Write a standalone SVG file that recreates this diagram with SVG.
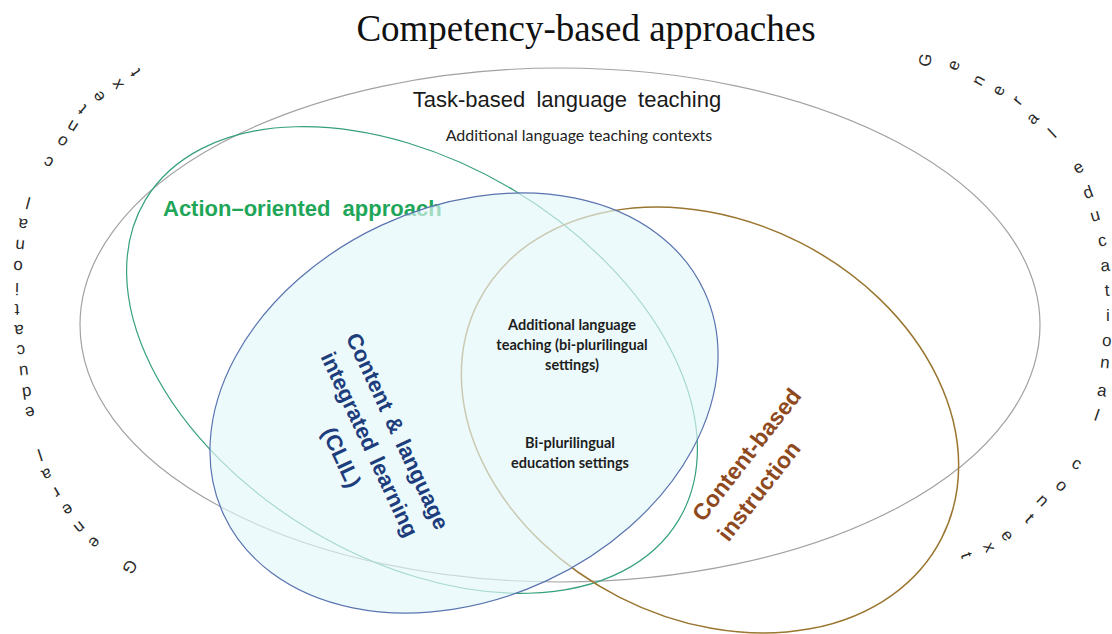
<svg xmlns="http://www.w3.org/2000/svg" width="1112" height="634" viewBox="0 0 1112 634">
<style>
.ctx{font-family:"Liberation Sans",Arial,sans-serif;font-size:17px;fill:#2a2a2a;text-anchor:middle}
.title{font-family:"Liberation Serif","Times New Roman",serif;font-size:37px;fill:#111;text-anchor:middle}
.cal{font-family:Lato,"Open Sans",sans-serif;fill:#222;text-anchor:middle}
.calb{font-family:Lato,"Open Sans",sans-serif;font-weight:bold;font-size:14.5px;fill:#1e1e1e;text-anchor:middle}
.ar{font-family:"Liberation Sans",Arial,sans-serif}
.arb{font-family:"Liberation Sans",Arial,sans-serif;font-weight:bold}
.el{fill:none}
</style>
<rect width="1112" height="634" fill="#fff"/>
<text class="title" x="586" y="41">Competency-based approaches</text>

<g id="context-right">
<text class="ctx" transform="translate(925,60) rotate(-80)" y="6">G</text>
<text class="ctx" transform="translate(953,65) rotate(-69)" y="6">e</text>
<text class="ctx" transform="translate(978,80) rotate(-61)" y="6">n</text>
<text class="ctx" transform="translate(998,90) rotate(-63)" y="6">e</text>
<text class="ctx" transform="translate(1017,100) rotate(-50)" y="6">r</text>
<text class="ctx" transform="translate(1032,118) rotate(-47)" y="6">a</text>
<text class="ctx" transform="translate(1052,133) rotate(-43)" y="6">l</text>
<text class="ctx" transform="translate(1078,167) rotate(-31)" y="6">e</text>
<text class="ctx" transform="translate(1088,192) rotate(-20)" y="6">d</text>
<text class="ctx" transform="translate(1095,215) rotate(-16)" y="6">u</text>
<text class="ctx" transform="translate(1102,240) rotate(-11)" y="6">c</text>
<text class="ctx" transform="translate(1105,265) rotate(-6)" y="6">a</text>
<text class="ctx" transform="translate(1107,290) rotate(-3)" y="6">t</text>
<text class="ctx" transform="translate(1108,315) rotate(0)" y="6">i</text>
<text class="ctx" transform="translate(1107,340) rotate(4)" y="6">o</text>
<text class="ctx" transform="translate(1105,362) rotate(6)" y="6">n</text>
<text class="ctx" transform="translate(1102,390) rotate(9)" y="6">a</text>
<text class="ctx" transform="translate(1097,415) rotate(19)" y="6">l</text>
<text class="ctx" transform="translate(1077,463) rotate(27)" y="6">c</text>
<text class="ctx" transform="translate(1062,485) rotate(43)" y="6">o</text>
<text class="ctx" transform="translate(1043,500) rotate(44)" y="6">n</text>
<text class="ctx" transform="translate(1030,518) rotate(45)" y="6">t</text>
<text class="ctx" transform="translate(1008,535) rotate(54)" y="6">e</text>
<text class="ctx" transform="translate(990,547) rotate(64)" y="6">x</text>
<text class="ctx" transform="translate(967,555) rotate(71)" y="6">t</text>
</g>

<g id="context-left">
<text class="ctx" transform="translate(130,567) rotate(124)" y="6">G</text>
<text class="ctx" transform="translate(95,543) rotate(128)" y="6">e</text>
<text class="ctx" transform="translate(80,528) rotate(141)" y="6">n</text>
<text class="ctx" transform="translate(68,510) rotate(147)" y="6">e</text>
<text class="ctx" transform="translate(57,493) rotate(149)" y="6">r</text>
<text class="ctx" transform="translate(47,475) rotate(156)" y="6">a</text>
<text class="ctx" transform="translate(40,455) rotate(162)" y="6">l</text>
<text class="ctx" transform="translate(30,413) rotate(166)" y="6">e</text>
<text class="ctx" transform="translate(27,393) rotate(172)" y="6">d</text>
<text class="ctx" transform="translate(24,372) rotate(174)" y="6">u</text>
<text class="ctx" transform="translate(21,351) rotate(175)" y="6">c</text>
<text class="ctx" transform="translate(19,331) rotate(177)" y="6">a</text>
<text class="ctx" transform="translate(17,310) rotate(179)" y="6">t</text>
<text class="ctx" transform="translate(17,289) rotate(181)" y="6">i</text>
<text class="ctx" transform="translate(18,267) rotate(183)" y="6">o</text>
<text class="ctx" transform="translate(20,246) rotate(186)" y="6">n</text>
<text class="ctx" transform="translate(23,225) rotate(189)" y="6">a</text>
<text class="ctx" transform="translate(28,203) rotate(195)" y="6">l</text>
<text class="ctx" transform="translate(48,163) rotate(209)" y="6">c</text>
<text class="ctx" transform="translate(62,142) rotate(214)" y="6">o</text>
<text class="ctx" transform="translate(72,127) rotate(212)" y="6">n</text>
<text class="ctx" transform="translate(82,110) rotate(221)" y="6">t</text>
<text class="ctx" transform="translate(98,97) rotate(234)" y="6">e</text>
<text class="ctx" transform="translate(117,85) rotate(237)" y="6">x</text>
<text class="ctx" transform="translate(135,73) rotate(236)" y="6">t</text>
</g>

<g id="connectors"></g>

<g id="task-based">
<ellipse class="el" cx="560" cy="325" rx="480" ry="257" stroke="#a2a2a2" stroke-width="1.2"/>
<text class="ar" x="567" y="107" font-size="22" word-spacing="5" text-anchor="middle" fill="#1a1a1a">Task-based language teaching</text>
<text class="cal" x="579" y="141" font-size="16">Additional language teaching contexts</text>
</g>

<g id="action-oriented">
<ellipse class="el" rx="311" ry="198" transform="translate(412,360) rotate(31)" stroke="#36a07c" stroke-width="1.2"/>
<text class="arb" x="163" y="216" font-size="22" word-spacing="6" fill="#1fa659">Action–oriented approach</text>
</g>

<g id="content-based">
<ellipse class="el" rx="260" ry="199" transform="translate(710,420) rotate(27)" stroke="#9a7630" stroke-width="1.5"/>
<g transform="translate(697,518) rotate(-52)">
<text class="arb" font-size="23" fill="#8e4a1e"><tspan x="0" y="8">Content-based</tspan><tspan x="0" y="40">instruction</tspan></text>
</g>
</g>

<g id="clil">
<ellipse rx="265" ry="196" transform="translate(464,403) rotate(-25)" fill="#e4f7f9" fill-opacity="0.65" stroke="#5a74b0" stroke-width="1.2"/>
<g transform="translate(398,431) rotate(65)">
<text class="arb" font-size="22" word-spacing="3" fill="#1d3d7c" text-anchor="middle"><tspan x="0" y="8">Content &amp; language</tspan><tspan x="0" y="39">integrated learning</tspan><tspan x="0" y="70">(CLIL)</tspan></text>
</g>
</g>

<g id="additional-language-teaching">
<text class="calb"><tspan x="572" y="330">Additional language</tspan><tspan x="572" y="350">teaching (bi-plurilingual</tspan><tspan x="572" y="370">settings)</tspan></text>
</g>

<g id="bi-plurilingual-education">
<text class="calb"><tspan x="570" y="448">Bi-plurilingual</tspan><tspan x="570" y="468">education settings</tspan></text>
</g>
</svg>
